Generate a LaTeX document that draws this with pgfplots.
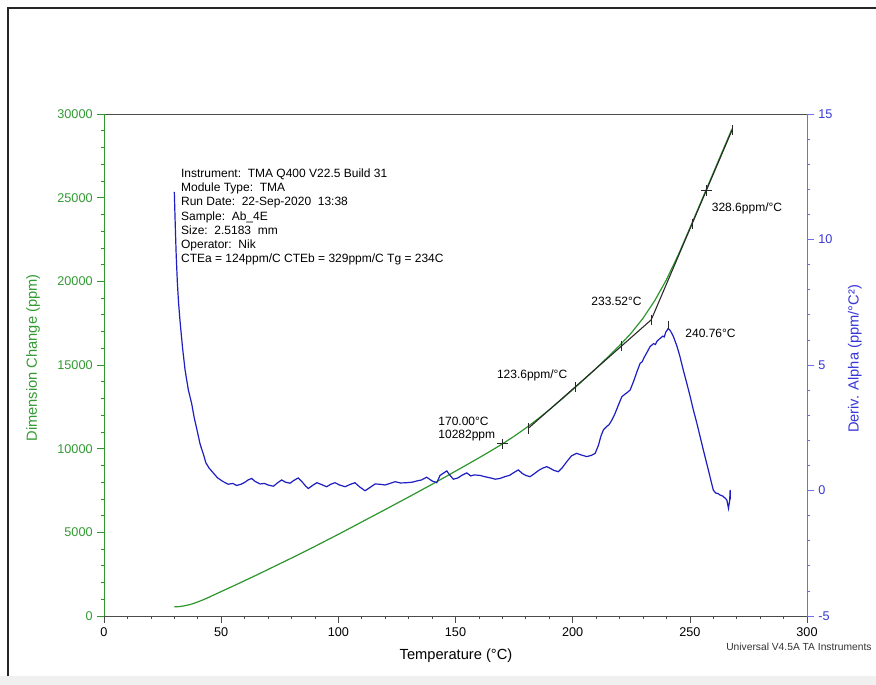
\documentclass[border=0pt]{standalone}
\usepackage{fontspec}
\setmainfont{Liberation Sans}
\usepackage{pgfplots}
\pgfplotsset{compat=1.18}
\definecolor{dgreen}{RGB}{45,150,45}
\definecolor{dgreenlab}{RGB}{50,155,50}
\definecolor{cblue}{RGB}{30,30,195}
\definecolor{rblue}{RGB}{110,110,235}
\definecolor{rbluelab}{RGB}{55,55,215}
\definecolor{tline}{RGB}{40,40,40}

\pgfplotstableread{
T ppm
30 550
32 560
34 600
36 660
38 740
40 840
42 950
44 1070
46 1200
48 1330
50 1460
55 1780
60 2110
65 2440
70 2780
75 3120
80 3460
85 3810
90 4160
95 4520
100 4880
105 5250
110 5620
115 5990
120 6360
125 6735
130 7110
135 7490
140 7870
145 8260
150 8655
155 9050
160 9450
165 9860
170 10282
175 10740
180 11230
185 11760
190 12320
195 12910
200 13520
205 14150
210 14800
215 15470
220 16160
225 16910
230 17790
235 18840
240 20090
245 21560
250 23180
255 24830
260 26480
265 28130
268 29120
}\dimtable

\pgfplotstableread{
T v
30 11.9
30.4 10.6
30.8 9.4
31.3 8.3
31.8 7.5
32.4 6.8
33.5 5.7
34.6 4.8
36 4.0
37.4 3.47
38.5 2.9
39.6 2.45
41 1.85
42.4 1.45
43.5 1.1
44.8 0.9
46.7 0.69
48.5 0.5
50.9 0.35
53 0.25
55 0.28
56.6 0.2
58.5 0.25
60 0.32
61.5 0.42
63 0.48
64.5 0.36
66.6 0.26
68.5 0.28
70 0.22
72.3 0.17
74 0.3
75.8 0.42
77.5 0.33
79.4 0.29
81 0.4
82.9 0.5
84.5 0.35
86 0.18
87.2 0.08
89 0.2
90.8 0.31
92.5 0.25
95 0.15
96.8 0.25
98.6 0.31
100.5 0.22
102.9 0.15
105 0.24
107.1 0.31
109 0.15
111.4 -0.01
113.5 0.12
115.7 0.26
117.5 0.25
119.9 0.22
122 0.28
124.2 0.35
126.5 0.3
129.2 0.31
131.5 0.33
133.5 0.38
135.5 0.42
137.7 0.53
140 0.38
142 0.31
143.4 0.6
145 0.7
146.3 0.78
147.5 0.62
149.1 0.45
151 0.5
153 0.62
154.8 0.7
156.5 0.58
158 0.62
160.5 0.6
162.5 0.55
165 0.5
167 0.45
169 0.48
171 0.55
173 0.6
175 0.72
176.8 0.82
178.5 0.68
180 0.6
181.8 0.55
183.5 0.66
185.5 0.8
187 0.88
188.9 0.95
190.5 0.88
192 0.8
193.9 0.75
195.5 0.9
197.5 1.15
199.5 1.38
201.7 1.48
203.5 1.42
206 1.35
208 1.4
209.6 1.48
211 1.8
212 2.15
213.1 2.41
214.5 2.55
215.5 2.62
216.7 2.8
218 3.05
219.5 3.4
221 3.74
222.5 3.85
223.5 3.92
224.5 4.0
226 4.35
227.5 4.75
228.8 5.07
229.6 5.12
230.5 5.3
232 5.55
233 5.73
234.5 5.85
235.3 5.82
236 5.95
237.3 6.06
238.5 6.15
239.1 6.12
239.7 6.3
240.8 6.46
241.8 6.35
243 6.13
244.5 5.75
245.8 5.33
247.2 4.8
248.7 4.27
250 3.8
251.5 3.21
253 2.68
254.4 2.14
255.8 1.6
257.2 1.08
258.6 0.55
260 0.02
261 -0.1
262 -0.12
262.9 -0.18
264 -0.22
265 -0.3
265.8 -0.38
266.5 -0.71
267 -0.4
267.2 0.02
267.3 -0.35
}\dertable

\begin{document}
\begin{tikzpicture}
\fill[white] (0,0) rectangle (657pt,513.75pt);
\fill[gray!12] (0,0) rectangle (657pt,6.5pt);
\draw[line width=1.2pt, black!85] (6pt,6.5pt) -- (6pt,507.75pt) -- (662pt,507.75pt);

\begin{axis}[
  at={(78pt,51.75pt)}, anchor=south west,
  scale only axis, width=527.25pt, height=376.5pt,
  xmin=0, xmax=300, ymin=0, ymax=30000,
  xtick={0,50,...,300}, ytick={0,5000,...,30000},
  minor x tick num=4, minor y tick num=4,
  tick align=outside, xtick pos=left, ytick pos=left,
  major tick length=5pt, minor tick length=2.6pt,
  separate axis lines,
  x axis line style={black!70, line width=0.7pt},
  y axis line style={dgreen, line width=0.7pt},
  xtick style={black!70, line width=0.5pt},
  ytick style={dgreen, line width=0.5pt},
  tick label style={font=\fontsize{9.5}{11}\selectfont},
  yticklabel style={text=dgreenlab},
  /pgf/number format/assume math mode=true,
  /pgf/number format/1000 sep={},
  scaled y ticks=false,
  clip=false,
  xlabel={Temperature (°C)},
  ylabel={Dimension Change (ppm)},
  every axis x label/.style={at={(axis description cs:0.5007,-0.0797)}, anchor=center, font=\fontsize{11}{13}\selectfont},
  every axis y label/.style={at={(axis description cs:-0.101,0.514)}, rotate=90, anchor=center, font=\fontsize{11}{13}\selectfont, text=dgreenlab},
]
\addplot[dgreen, line width=0.9pt] table[x=T, y=ppm] {\dimtable};
% tangent lines
\addplot[tline, line width=0.8pt] coordinates {(181,11208) (233.52,17700)};
\addplot[tline, line width=0.8pt] coordinates {(233.52,17700) (268,29030)};
% tick marks on the tangents
\addplot[only marks, mark=|, mark size=3.8pt, tline, mark options={line width=0.7pt}] coordinates {(181,11208) (201,13680) (221,16153) (233.52,17700) (251,23443) (257,25415) (268,29030)};
\addplot[only marks, mark=+, mark size=4pt, tline, mark options={line width=0.7pt}] coordinates {(170,10282) (257,25415)};

\node[anchor=north west, align=left, inner sep=0pt, font=\fontsize{9}{10.7}\selectfont] at (axis cs:32.8,26750) {Instrument:\ \ TMA Q400 V22.5 Build 31\\Module Type:\ \ TMA\\Run Date:\ \ 22-Sep-2020\ \ 13:38\\Sample:\ \ Ab\_4E\\Size:\ \ 2.5183\ \ mm\\Operator:\ \ Nik\\CTEa = 124ppm/C CTEb = 329ppm/C Tg = 234C};

\node[anchor=west, inner sep=0pt, font=\fontsize{9}{11}\selectfont] at (axis cs:142.6,11614) {170.00°C};
\node[anchor=west, inner sep=0pt, font=\fontsize{9}{11}\selectfont] at (axis cs:142.6,10760) {10282ppm};
\node[anchor=west, inner sep=0pt, font=\fontsize{9}{11}\selectfont] at (axis cs:167.6,14405) {123.6ppm/°C};
\node[anchor=west, inner sep=0pt, font=\fontsize{9}{11}\selectfont] at (axis cs:207.9,18787) {233.52°C};
\node[anchor=west, inner sep=0pt, font=\fontsize{9}{11}\selectfont] at (axis cs:248,16897) {240.76°C};
\node[anchor=west, inner sep=0pt, font=\fontsize{9}{11}\selectfont] at (axis cs:259.3,24370) {328.6ppm/°C};
\end{axis}

\begin{axis}[
  at={(78pt,51.75pt)}, anchor=south west,
  scale only axis, width=527.25pt, height=376.5pt,
  xmin=0, xmax=300, ymin=-5, ymax=15,
  hide x axis, axis y line*=right,
  y axis line style={rblue, line width=0.7pt, -},
  ytick={-5,0,...,15}, minor y tick num=4,
  tick align=outside, major tick length=5pt, minor tick length=2.6pt,
  ytick style={rblue, line width=0.5pt},
  yticklabel style={text=rbluelab, font=\fontsize{9.5}{11}\selectfont},
  /pgf/number format/assume math mode=true,
  ylabel={Deriv. Alpha (ppm/°C²)},
  every axis y label/.style={at={(axis description cs:1.068,0.512)}, rotate=90, anchor=center, font=\fontsize{11}{13}\selectfont, text=rbluelab},
]
\addplot[cblue, line width=0.9pt] table[x=T, y=v] {\dertable};
\addplot[only marks, mark=|, mark size=3pt, tline, mark options={line width=0.7pt}] coordinates {(240.76,6.6)};
\end{axis}

\node[anchor=west, inner sep=0pt, font=\fontsize{7.7}{9}\selectfont, text=black!80] at (544.5pt,28.5pt) {Universal V4.5A TA Instruments};

\pgfresetboundingbox
\path[use as bounding box] (0,0) rectangle (657pt,513.75pt);
\end{tikzpicture}
\end{document}
